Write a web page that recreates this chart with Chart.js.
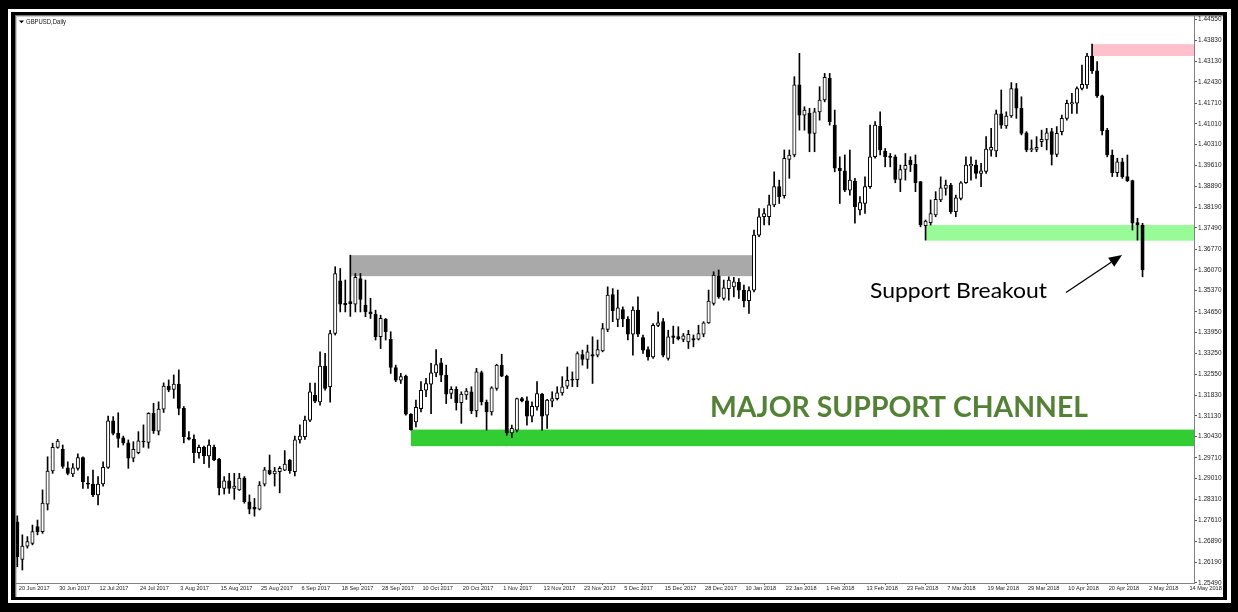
<!DOCTYPE html>
<html><head><meta charset="utf-8">
<script src="https://cdn.jsdelivr.net/npm/chart.js@4.4.1/dist/chart.umd.min.js"></script>
<style>html,body{margin:0;padding:0;background:#000;}canvas{display:block;}</style>
</head><body>
<canvas id="c" width="1238" height="612"></canvas>
<script>
// ---- DATA (GBPUSD daily) ----
const dateLabels = ['20 Jun 2017','30 Jun 2017','12 Jul 2017','24 Jul 2017','3 Aug 2017','15 Aug 2017','25 Aug 2017','6 Sep 2017','18 Sep 2017','28 Sep 2017','10 Oct 2017','20 Oct 2017','1 Nov 2017','13 Nov 2017','23 Nov 2017','5 Dec 2017','15 Dec 2017','28 Dec 2017','10 Jan 2018','22 Jan 2018','1 Feb 2018','13 Feb 2018','23 Feb 2018','7 Mar 2018','19 Mar 2018','29 Mar 2018','10 Apr 2018','20 Apr 2018','2 May 2018','14 May 2018'];
const priceTicks = [1.44550,1.43830,1.43130,1.42430,1.41710,1.41010,1.40310,1.39610,1.38890,1.38190,1.37490,1.36770,1.36070,1.35370,1.34650,1.33950,1.33250,1.32550,1.31830,1.31130,1.30430,1.29710,1.29010,1.28310,1.27610,1.26890,1.26190,1.25490];

const openPrices = [
1.2755,1.2628,1.2673,1.2682,1.2739,1.2722,1.2815,1.2927,1.3007,1.3000,
1.2938,1.2917,1.2936,1.2972,1.2886,1.2883,1.2846,1.2883,1.2939,1.3097,
1.3054,1.3039,1.3022,1.2970,1.2989,1.3028,1.3024,1.3122,1.3062,1.3136,
1.3214,1.3203,1.3221,1.3139,1.3040,1.3035,1.2989,1.3007,1.2978,1.3007,
1.2966,1.2868,1.2894,1.2868,1.2863,1.2903,1.2823,1.2804,1.2798,1.2882,
1.2930,1.2917,1.2925,1.2930,1.2964,1.2925,1.3032,1.3043,1.3099,1.3184,
1.3161,1.3282,1.3212,1.3392,1.3570,1.3494,1.3500,1.3491,1.3578,1.3488,
1.3465,1.3458,1.3381,1.3441,1.3372,1.3277,1.3234,1.3248,1.3119,1.3093,
1.3138,1.3200,1.3221,1.3259,1.3293,1.3251,1.3189,1.3203,1.3158,1.3184,
1.3195,1.3130,1.3260,1.3159,1.3127,1.3206,1.3285,1.3248,1.3056,1.3065,
1.3172,1.3164,1.3112,1.3144,1.3187,1.3116,1.3163,1.3172,1.3191,1.3214,
1.3238,1.3236,1.3321,1.3304,1.3321,1.3319,1.3333,1.3406,1.3524,1.3440,
1.3473,1.3441,1.3390,1.3471,1.3378,1.3338,1.3313,1.3419,1.3432,1.3308,
1.3384,1.3382,1.3372,1.3364,1.3375,1.3373,1.3390,1.3428,1.3494,1.3586,
1.3511,1.3544,1.3550,1.3565,1.3539,1.3503,1.3539,1.3725,1.3787,1.3787,
1.3827,1.3889,1.3858,1.3981,1.3996,1.4233,1.4131,1.4137,1.4069,1.4142,
1.4182,1.4255,1.4097,1.3951,1.3942,1.3877,1.3908,1.3810,1.3832,1.3889,
1.3990,1.4094,1.4009,1.3992,1.3990,1.3913,1.3947,1.3978,1.3964,1.3906,
1.3757,1.3767,1.3793,1.3844,1.3883,1.3894,1.3804,1.3849,1.3902,1.3959,
1.3962,1.3934,1.3940,1.4012,1.4010,1.4135,1.4094,1.4128,1.4221,1.4154,
1.4071,1.4013,1.4015,1.4041,1.4047,1.4075,1.3998,1.4075,1.4120,1.4169,
1.4171,1.4221,1.4233,1.4331,1.4281,1.4196,1.4080,1.3996,1.3936,1.3973,
1.3923,1.3909,1.3767,1.3759];

const highPrices = [
1.2775,1.2711,1.2705,1.2744,1.2761,1.2863,1.2975,1.3021,1.3034,1.3015,
1.2958,1.2952,1.2985,1.2975,1.2908,1.2930,1.2908,1.2958,1.3113,1.3111,
1.3124,1.3045,1.3032,1.3026,1.3060,1.3083,1.3124,1.3156,1.3161,1.3225,
1.3235,1.3252,1.3269,1.3145,1.3060,1.3049,1.3015,1.3011,1.3032,1.3015,
1.2970,1.2908,1.2919,1.2919,1.2919,1.2908,1.2846,1.2834,1.2891,1.2939,
1.2981,1.2939,1.2942,1.2996,1.2966,1.3045,1.3083,1.3113,1.3224,1.3224,
1.3330,1.3325,1.3403,1.3618,1.3612,1.3573,1.3657,1.3595,1.3595,1.3573,
1.3511,1.3471,1.3454,1.3443,1.3398,1.3285,1.3257,1.3251,1.3121,1.3167,
1.3229,1.3240,1.3291,1.3338,1.3308,1.3285,1.3212,1.3212,1.3195,1.3206,
1.3212,1.3274,1.3265,1.3167,1.3212,1.3288,1.3322,1.3251,1.3082,1.3174,
1.3176,1.3178,1.3161,1.3229,1.3190,1.3169,1.3195,1.3212,1.3246,1.3279,
1.3262,1.3330,1.3336,1.3353,1.3381,1.3370,1.3426,1.3550,1.3544,1.3539,
1.3482,1.3449,1.3482,1.3516,1.3387,1.3347,1.3426,1.3465,1.3443,1.3403,
1.3417,1.3415,1.3392,1.3403,1.3387,1.3420,1.3432,1.3539,1.3601,1.3607,
1.3573,1.3584,1.3582,1.3578,1.3556,1.3550,1.3742,1.3815,1.3815,1.3860,
1.3939,1.3911,1.4013,1.4013,1.4261,1.4340,1.4159,1.4154,1.4154,1.4227,
1.4272,1.4272,1.4148,1.3990,1.3996,1.4013,1.3917,1.3855,1.3922,1.4097,
1.4109,1.4142,1.4018,1.4001,1.3996,1.3962,1.4001,1.3990,1.3996,1.3906,
1.3776,1.3844,1.3872,1.3922,1.3911,1.3900,1.3860,1.3906,1.3990,1.3990,
1.3979,1.3968,1.4058,1.4086,1.4148,1.4216,1.4142,1.4241,1.4238,1.4193,
1.4075,1.4047,1.4058,1.4080,1.4086,1.4086,1.4092,1.4131,1.4182,1.4205,
1.4227,1.4300,1.4340,1.4371,1.4312,1.4199,1.4086,1.4013,1.3985,1.3985,
1.3996,1.3911,1.3782,1.3765];

const lowPrices = [
1.2603,1.2592,1.2666,1.2677,1.2711,1.2716,1.2795,1.2919,1.3004,1.2936,
1.2914,1.2908,1.2930,1.2868,1.2868,1.2840,1.2812,1.2876,1.2936,1.3049,
1.3007,1.3015,1.2936,1.2958,1.2985,1.3007,1.3004,1.3054,1.3049,1.3125,
1.3195,1.3173,1.3117,1.3022,1.3032,1.2955,1.2970,1.2952,1.2939,1.2962,
1.2846,1.2849,1.2851,1.2831,1.2861,1.2818,1.2782,1.2774,1.2795,1.2876,
1.2914,1.2876,1.2853,1.2928,1.2919,1.2910,1.3021,1.3034,1.3094,1.3158,
1.3150,1.3200,1.3160,1.3387,1.3465,1.3465,1.3450,1.3465,1.3465,1.3449,
1.3443,1.3370,1.3341,1.3370,1.3257,1.3229,1.3223,1.3116,1.3065,1.3076,
1.3127,1.3178,1.3121,1.3246,1.3229,1.3155,1.3172,1.3133,1.3088,1.3169,
1.3121,1.3110,1.3150,1.3065,1.3116,1.3200,1.3246,1.3048,1.3040,1.3059,
1.3161,1.3082,1.3093,1.3133,1.3065,1.3071,1.3144,1.3167,1.3183,1.3206,
1.3212,1.3212,1.3285,1.3274,1.3223,1.3313,1.3330,1.3398,1.3432,1.3415,
1.3415,1.3370,1.3319,1.3381,1.3325,1.3302,1.3308,1.3415,1.3313,1.3302,
1.3358,1.3370,1.3364,1.3341,1.3347,1.3370,1.3381,1.3426,1.3488,1.3511,
1.3505,1.3505,1.3516,1.3511,1.3482,1.3460,1.3533,1.3720,1.3759,1.3759,
1.3821,1.3832,1.3850,1.3917,1.3990,1.4080,1.4080,1.4007,1.4007,1.4114,
1.4176,1.4097,1.3939,1.3832,1.3872,1.3860,1.3765,1.3793,1.3798,1.3883,
1.3985,1.3996,1.3956,1.3956,1.3902,1.3872,1.3911,1.3940,1.3872,1.3753,
1.3708,1.3759,1.3787,1.3838,1.3860,1.3798,1.3787,1.3844,1.3900,1.3911,
1.3917,1.3889,1.3934,1.3992,1.3990,1.4086,1.4086,1.4123,1.4120,1.4064,
1.4007,1.4007,1.4007,1.4024,1.4013,1.3962,1.3990,1.4064,1.4114,1.4137,
1.4137,1.4216,1.4221,1.4272,1.4191,1.4064,1.3990,1.3923,1.3923,1.3917,
1.3906,1.3742,1.3708,1.3584];

const closePrices = [
1.2637,1.2673,1.2688,1.2722,1.2722,1.2818,1.2927,1.3007,1.3028,1.2942,
1.2919,1.2938,1.2972,1.2891,1.2882,1.2846,1.2883,1.2939,1.3097,1.3054,
1.3037,1.3022,1.2970,1.3000,1.3029,1.3025,1.3122,1.3063,1.3136,1.3214,
1.3201,1.3221,1.3139,1.3043,1.3035,1.2989,1.3007,1.2978,1.3015,1.2964,
1.2870,1.2894,1.2868,1.2876,1.2903,1.2823,1.2798,1.2798,1.2879,1.2931,
1.2917,1.2927,1.2936,1.2950,1.2928,1.3032,1.3045,1.3099,1.3195,1.3163,
1.3282,1.3206,1.3392,1.3595,1.3491,1.3489,1.3493,1.3582,1.3507,1.3465,
1.3458,1.3381,1.3443,1.3398,1.3277,1.3234,1.3246,1.3119,1.3067,1.3142,
1.3200,1.3223,1.3259,1.3287,1.3251,1.3187,1.3203,1.3158,1.3187,1.3197,
1.3130,1.3262,1.3161,1.3127,1.3208,1.3285,1.3248,1.3056,1.3071,1.3172,
1.3164,1.3112,1.3146,1.3189,1.3112,1.3167,1.3172,1.3191,1.3212,1.3234,
1.3234,1.3324,1.3304,1.3330,1.3315,1.3338,1.3409,1.3522,1.3469,1.3479,
1.3441,1.3390,1.3471,1.3390,1.3336,1.3313,1.3420,1.3428,1.3319,1.3381,
1.3379,1.3374,1.3384,1.3389,1.3370,1.3392,1.3428,1.3502,1.3590,1.3516,
1.3547,1.3573,1.3567,1.3539,1.3502,1.3537,1.3725,1.3787,1.3798,1.3827,
1.3889,1.3855,1.3985,1.3996,1.4233,1.4131,1.4148,1.4069,1.4142,1.4182,
1.4259,1.4109,1.3951,1.3943,1.3877,1.3911,1.3821,1.3835,1.3889,1.3990,
1.4097,1.4013,1.3990,1.3988,1.3913,1.3947,1.3961,1.3962,1.3902,1.3759,
1.3772,1.3798,1.3846,1.3885,1.3894,1.3804,1.3851,1.3902,1.3962,1.3964,
1.3934,1.3942,1.4016,1.4022,1.4135,1.4097,1.4128,1.4221,1.4154,1.4069,
1.4013,1.4018,1.4022,1.4049,1.4071,1.3998,1.4069,1.4120,1.4171,1.4173,
1.4221,1.4235,1.4331,1.4281,1.4196,1.4078,1.3996,1.3936,1.3973,1.3923,
1.3909,1.3765,1.3759,1.3607];

// zones: [gray resistance, major support, minor support, top]
const zoneStartBar = [66, 78, 180, 213];
const zoneEndBar   = [145.6, null, null, null];
const zoneHigh     = [1.3657, 1.3067, 1.3759, 1.4371];
const zoneLow      = [1.3586, 1.3011, 1.3706, 1.4331];

// ---- STYLE ----
const zoneColors = ['#a9a9a9', '#32cd32', '#98fb98', '#ffc0cb'];

function fitText(ctx, text, x, y, width, font, color) {
  ctx.save();
  ctx.font = font;
  ctx.fillStyle = color;
  ctx.textBaseline = 'alphabetic';
  ctx.textAlign = 'left';
  const w = ctx.measureText(text).width;
  ctx.translate(x, y);
  ctx.scale(width / w, 1);
  ctx.fillText(text, 0, 0);
  ctx.restore();
}

const framePlugin = {
  id: 'frame',
  beforeDraw(chart) {
    const ctx = chart.ctx;
    ctx.save();
    ctx.fillStyle = '#000'; ctx.fillRect(0, 0, 1238, 612);
    ctx.fillStyle = '#fff'; ctx.fillRect(8, 9, 1223, 594);
    ctx.fillStyle = '#000'; ctx.fillRect(11, 12, 1216, 588);
    ctx.fillStyle = '#fff'; ctx.fillRect(15, 15, 1208, 582);
    ctx.fillStyle = '#777'; ctx.fillRect(15, 15, 1, 582); ctx.fillRect(15, 15, 1208, 1);
    ctx.fillStyle = '#cfcfcf'; ctx.fillRect(16, 16, 1, 581); ctx.fillRect(16, 16, 1207, 1);
    ctx.restore();
  },
  beforeDatasetsDraw(chart) {
    const ctx = chart.ctx, xs = chart.scales.x, ys = chart.scales.y, a = chart.chartArea;
    ctx.save();
    for (let k = 0; k < zoneStartBar.length; k++) {
      const x1 = xs.getPixelForValue(zoneStartBar[k]);
      const x2 = zoneEndBar[k] == null ? a.right : xs.getPixelForValue(zoneEndBar[k]);
      const y1 = ys.getPixelForValue(zoneHigh[k]);
      const y2 = ys.getPixelForValue(zoneLow[k]);
      ctx.fillStyle = zoneColors[k];
      ctx.fillRect(x1, y1, x2 - x1, y2 - y1);
    }
    ctx.restore();
  },
  afterDraw(chart) {
    const ctx = chart.ctx;
    ctx.save();
    ctx.fillStyle = '#000';
    ctx.beginPath(); ctx.moveTo(19, 20.5); ctx.lineTo(24, 20.5); ctx.lineTo(21.5, 23.3); ctx.closePath(); ctx.fill();
    ctx.restore();
    fitText(ctx, 'GBPUSD,Daily', 26, 24.3, 40, '7px "Liberation Sans"', '#111');
    fitText(ctx, 'MAJOR SUPPORT CHANNEL', 710, 416.7, 378, 'bold 29px Lato', '#538135');
    fitText(ctx, 'Support Breakout', 870, 297.5, 177, '20.5px Lato', '#000');
    const sx = 1066, sy = 292.5, tx = 1122, ty = 255;
    const dx = tx - sx, dy = ty - sy, len = Math.hypot(dx, dy), ux = dx / len, uy = dy / len;
    const hl = 13, hw = 5.5, bx = tx - ux * hl, by = ty - uy * hl;
    ctx.save();
    ctx.strokeStyle = '#000'; ctx.fillStyle = '#000'; ctx.lineWidth = 1.3;
    ctx.beginPath(); ctx.moveTo(sx, sy); ctx.lineTo(bx, by); ctx.stroke();
    ctx.beginPath(); ctx.moveTo(tx, ty);
    ctx.lineTo(bx - uy * hw, by + ux * hw);
    ctx.lineTo(bx + uy * hw, by - ux * hw);
    ctx.closePath(); ctx.fill();
    ctx.restore();
  }
};

Chart.defaults.font.family = '"Liberation Sans", Arial, sans-serif';

new Chart(document.getElementById('c'), {
  type: 'bar',
  data: {
    datasets: [
      {
        label: 'body',
        data: openPrices.map((o, i) => ({ x: i, y: [o, closePrices[i]] })),
        backgroundColor: openPrices.map((o, i) => closePrices[i] >= o ? '#ffffff' : '#000000'),
        borderColor: '#000000', borderWidth: 1, borderSkipped: false,
        barThickness: 3.4, minBarLength: 1, grouped: false, order: 0
      },
      {
        label: 'wick',
        data: lowPrices.map((l, i) => ({ x: i, y: [l, highPrices[i]] })),
        backgroundColor: '#000000', borderWidth: 0,
        barThickness: 1, grouped: false, order: 1
      }
    ]
  },
  options: {
    responsive: false, animation: false, devicePixelRatio: 1,
    layout: { padding: { left: 16, top: 16, right: 15, bottom: 15 } },
    plugins: { legend: { display: false }, tooltip: { enabled: false } },
    scales: {
      x: {
        type: 'linear', min: -0.26, max: 233.2, bounds: 'data', offset: false,
        grid: { display: true, drawOnChartArea: false, drawTicks: true, tickLength: 2, color: '#555' },
        border: { display: true, color: '#808080', width: 1 },
        ticks: {
          autoSkip: false, maxRotation: 0, minRotation: 0, align: 'start', labelOffset: 1.5, padding: 0,
          color: '#222', font: { size: 5.6 },
          callback: (v) => dateLabels[Math.round(v / 8)]
        },
        afterBuildTicks: (s) => { s.ticks = dateLabels.map((_, k) => ({ value: k * 8 })); },
        afterFit: (s) => { s.height = 14; s.paddingLeft = 0; s.paddingRight = 0; }
      },
      y: {
        type: 'linear', position: 'right', min: 1.2548, max: 1.44662, bounds: 'data',
        grid: { display: true, drawOnChartArea: false, drawTicks: true, tickLength: 3, color: '#555' },
        border: { display: true, color: '#808080', width: 1 },
        ticks: {
          autoSkip: false, padding: 1, color: '#222', font: { size: 6.5 },
          callback: (v) => Number(v).toFixed(5)
        },
        afterBuildTicks: (s) => { s.ticks = priceTicks.map(v => ({ value: v })); },
        afterFit: (s) => { s.width = 29; s.paddingTop = 0; s.paddingBottom = 0; }
      }
    }
  },
  plugins: [framePlugin]
});
</script>
</body></html>
